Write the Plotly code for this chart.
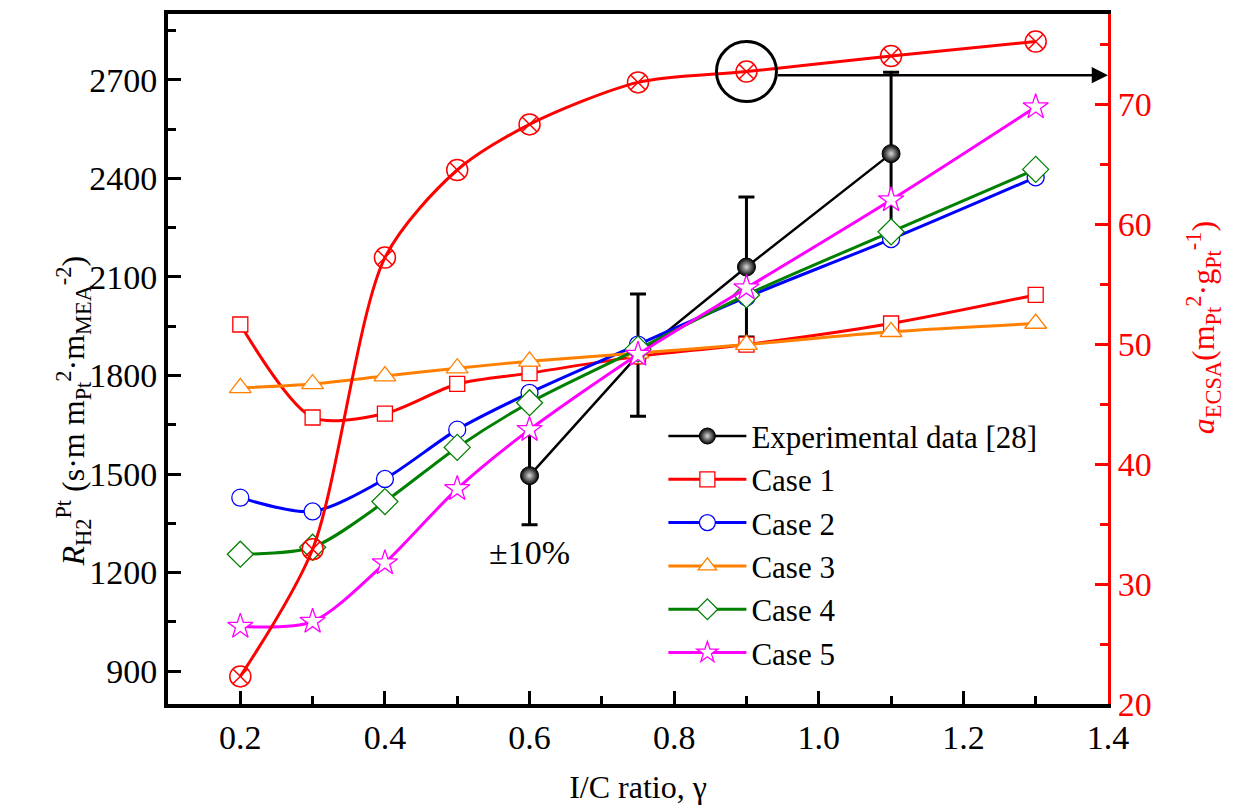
import plotly.graph_objects as go

x_exp = [0.6, 0.75, 0.9, 1.1]
y_exp = [1495, 1862, 2130, 2475]
err_pct = 0.10

x_case = [0.2, 0.3, 0.4, 0.5, 0.6, 0.75, 0.9, 1.1, 1.3]
case1 = [1955, 1672, 1684, 1774, 1807, 1858, 1894, 1958, 2045]
case2 = [1428, 1386, 1485, 1635, 1747, 1894, 2038, 2215, 2403]
case3 = [1762, 1774, 1798, 1822, 1843, 1868, 1894, 1933, 1958]
case4 = [1256, 1277, 1416, 1581, 1717, 1880, 2045, 2237, 2427]
case5 = [1036, 1051, 1229, 1455, 1635, 1864, 2066, 2334, 2617]
ecsa = [22.3, 32.9, 57.2, 64.5, 68.3, 71.8, 72.7, 74.0, 75.2]

x_ticks = [0.2, 0.4, 0.6, 0.8, 1.0, 1.2, 1.4]
y_ticks = [900, 1200, 1500, 1800, 2100, 2400, 2700]
y2_ticks = [20, 30, 40, 50, 60, 70]

FONT = "'Liberation Serif', 'Times New Roman', 'DejaVu Serif', serif"
TICK_FS = 34
LEG_FS = 31
TITLE_FS = 32
fig = go.Figure()

fig.add_trace(go.Scatter(
    x=x_exp, y=y_exp, mode="lines+markers", name="Experimental data [28]",
    line=dict(color="black", width=2.5),
    marker=dict(symbol="circle", size=18, color="black",
                gradient=dict(type="radial", color="#d8d8d8"),
                line=dict(color="black", width=1)),
    error_y=dict(type="percent", value=err_pct * 100, color="black",
                 thickness=3, width=8),
))

cases = [
    ("Case 1", case1, "#ff0000", "square", 15),
    ("Case 2", case2, "#0000ff", "circle", 17),
    ("Case 3", case3, "#ff8000", "triangle-up", 19),
    ("Case 4", case4, "#008000", "diamond", 20),
    ("Case 5", case5, "#ff00ff", "star", 19),
]
for name, ys, col, sym, sz in cases:
    fig.add_trace(go.Scatter(
        x=x_case, y=ys, mode="lines+markers", name=name,
        line=dict(color=col, width=3, shape="spline", smoothing=0.8),
        marker=dict(symbol=sym, size=sz, color="white",
                    line=dict(color=col, width=1.3)),
    ))

fig.add_trace(go.Scatter(
    x=x_case, y=ecsa, mode="lines+markers", name="ECSA", yaxis="y2",
    showlegend=False,
    line=dict(color="#ff0000", width=3, shape="spline", smoothing=0.8),
    marker=dict(symbol="circle-x-open", size=21, color="#ff0000",
                line=dict(color="#ff0000", width=1.5)),
))

# highlight circle + arrow to right axis
i9 = x_case.index(0.9)
fig.add_shape(type="circle", xref="x", yref="y2", xsizemode="pixel", ysizemode="pixel",
              xanchor=x_case[i9], yanchor=ecsa[i9], x0=-30, x1=30, y0=-30, y1=30,
              line=dict(color="black", width=3))
fig.add_annotation(x=1.4, y=ecsa[i9] - 0.3, xref="x", yref="y2",
                   ax=x_case[i9] + 0.041, ay=ecsa[i9] - 0.3, axref="x", ayref="y2",
                   showarrow=True, arrowhead=2, arrowsize=1.3, arrowwidth=2.5,
                   arrowcolor="black", text="")
fig.add_annotation(x=0.6, y=1262, xref="x", yref="y", text="±10%", showarrow=False,
                   font=dict(family=FONT, size=TICK_FS, color="black"))

# axis titles placed as rotated annotations
fig.add_annotation(
    x=-0.101, y=0.424, xref="paper", yref="paper", xanchor="center", yanchor="middle",
    textangle=-90, showarrow=False,
    text="<i>R</i><sub>H2</sub><sup>Pt</sup> (s·m m<sub>Pt</sub><sup>2</sup>·m<sub>MEA</sub><sup>-2</sup>)",
    font=dict(family=FONT, size=TITLE_FS, color="black"))
fig.add_annotation(
    x=1.101, y=0.546, xref="paper", yref="paper", xanchor="center", yanchor="middle",
    textangle=-90, showarrow=False,
    text="<i>a</i><sub>ECSA</sub>(m<sub>Pt</sub><sup>2</sup>·g<sub>Pt</sub><sup>-1</sup>)",
    font=dict(family=FONT, size=TITLE_FS, color="#ff0000"))

fig.update_layout(
    width=1236, height=812,
    margin=dict(l=168, r=128, t=10, b=108),
    paper_bgcolor="white", plot_bgcolor="white",
    font=dict(family=FONT, size=TICK_FS, color="black"),
    showlegend=True,
    legend=dict(x=0.527, y=0.427, xanchor="left", yanchor="top",
                bgcolor="rgba(0,0,0,0)", font=dict(family=FONT, size=LEG_FS),
                itemwidth=78, tracegroupgap=0),
    xaxis=dict(range=[0.1, 1.4], tickvals=x_ticks, ticktext=[f"{v:.1f}" for v in x_ticks],
               ticks="inside", ticklen=13, tickwidth=3, tickcolor="black",
               minor=dict(ticks="inside", ticklen=8, tickwidth=3, dtick=0.1, tickcolor="black"),
               showline=True, linecolor="black", linewidth=4, mirror=True,
               showgrid=False, zeroline=False,
               title=dict(text="I/C ratio, γ", font=dict(family=FONT, size=TITLE_FS), standoff=22),
               tickfont=dict(family=FONT, size=TICK_FS)),
    yaxis=dict(range=[800, 2900], tickvals=y_ticks,
               ticks="inside", ticklen=13, tickwidth=3, tickcolor="black",
               minor=dict(ticks="inside", ticklen=8, tickwidth=3, dtick=150, tick0=900, tickcolor="black"),
               showline=True, linecolor="black", linewidth=4,
               showgrid=False, zeroline=False,
               tickfont=dict(family=FONT, size=TICK_FS)),
    yaxis2=dict(range=[20, 77.5], tickvals=y2_ticks, overlaying="y", side="right",
                ticks="inside", ticklen=13, tickwidth=3, tickcolor="#ff0000",
                minor=dict(ticks="inside", ticklen=8, tickwidth=3, dtick=5, tick0=20, tickcolor="#ff0000"),
                showline=True, linecolor="#ff0000", linewidth=3,
                showgrid=False, zeroline=False,
                tickfont=dict(family=FONT, size=TICK_FS, color="#ff0000")),
)

fig.write_html("out.html")
